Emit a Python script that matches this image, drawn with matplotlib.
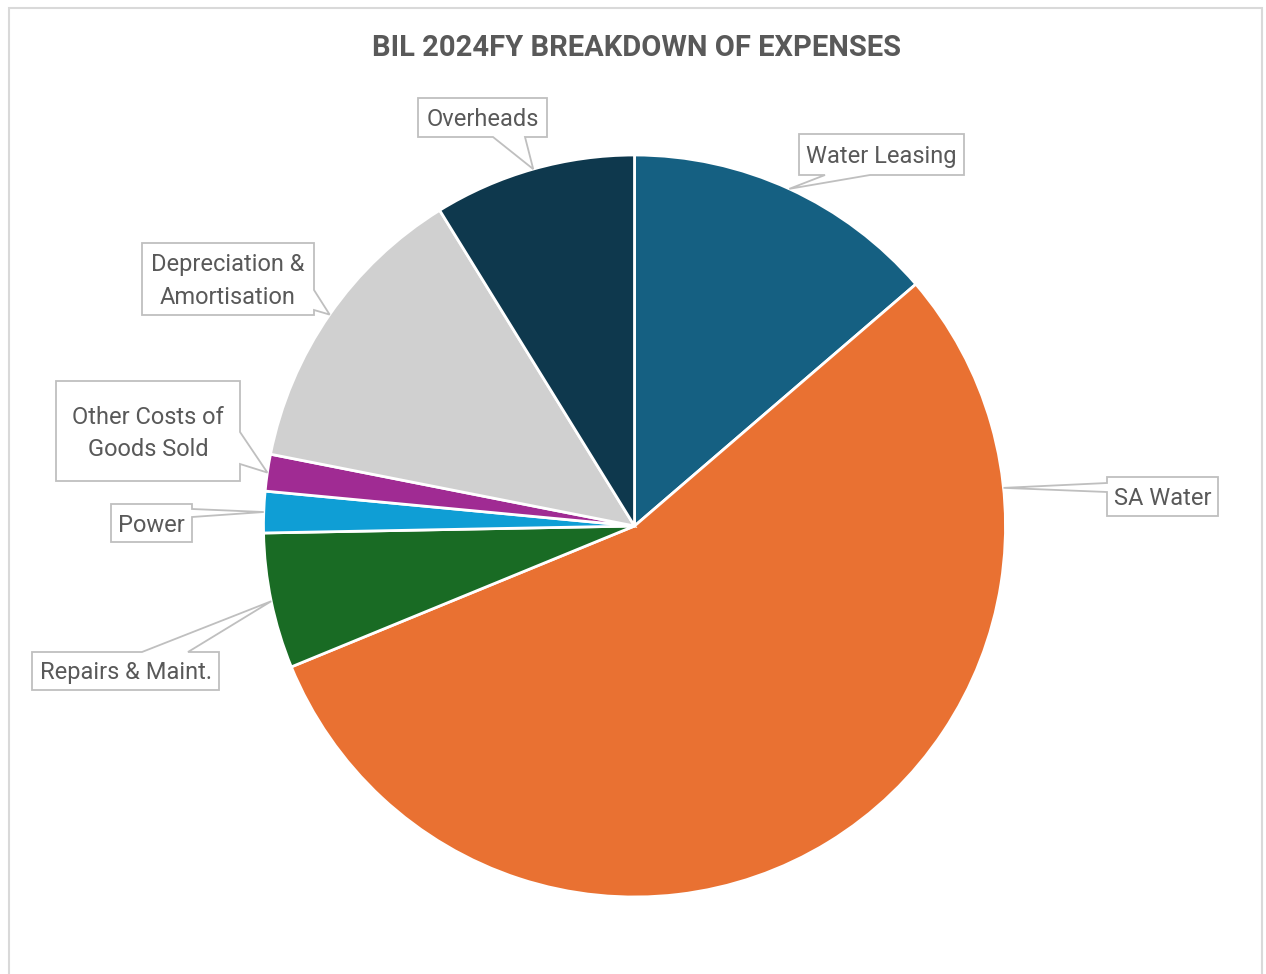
import matplotlib
matplotlib.use("Agg")
import matplotlib.pyplot as plt
from matplotlib.patches import Polygon, Rectangle
import numpy as np

# ---- data ----
categories = ["Water Leasing", "SA Water", "Repairs & Maint.", "Power",
              "Other Costs of\nGoods Sold", "Depreciation &\nAmortisation", "Overheads"]
values = [13.7, 55.1, 5.9, 1.8, 1.6, 13.1, 8.8]
colors = ["#156082", "#E97132", "#196B24", "#0F9ED5", "#A02B93", "#D0D0D0", "#0E384D"]
title = "BIL 2024FY BREAKDOWN OF EXPENSES"

# ---- layout (pixel coords, y downward) ----
W, H = 1266, 974
center_px = (634.5, 526)
radius = 371
# label boxes: (x0, y0, x1, y1), side of pointer, base positions along side
boxes = {
    "Water Leasing": ((799, 134, 964, 175), "bottom", (825, 870)),
    "SA Water": ((1107, 477, 1218, 516), "left", (483, 492)),
    "Repairs & Maint.": ((32, 652, 219, 690), "top", (142, 188)),
    "Power": ((111, 504, 192, 542), "right", (509, 517)),
    "Other Costs of\nGoods Sold": ((56, 381, 240, 481), "right", (432, 464)),
    "Depreciation &\nAmortisation": ((142, 243, 314, 315), "right", (290, 310)),
    "Overheads": ((418, 98, 547, 137), "bottom", (493, 525)),
}
# pointer angle overrides (degrees) where the callout doesn't point to wedge middle
tip_angle_override = {"SA Water": 5.9}

fig = plt.figure(figsize=(W / 100, H / 100), dpi=100)
ax = fig.add_axes([0, 0, 1, 1])

def Y(y):
    return H - y

cx, cy = center_px[0], Y(center_px[1])
wedges, _ = ax.pie(values, colors=colors, startangle=90, counterclock=False,
                   center=(cx, cy), radius=radius, frame=True,
                   wedgeprops=dict(edgecolor="white", linewidth=2.0))
ax.set_xlim(0, W)
ax.set_ylim(0, H)
ax.set_aspect("equal")
ax.axis("off")

edge_col = "#BFBFBF"
text_col = "#595959"
for w, lab in zip(wedges, categories):
    ang = tip_angle_override.get(lab, (w.theta1 + w.theta2) / 2)
    mid = np.deg2rad(ang)
    tx, ty = cx + radius * np.cos(mid), cy + radius * np.sin(mid)
    tip_px = (tx, H - ty)
    (x0, y0, x1, y1), side, (b1, b2) = boxes[lab]
    pts = [(x0, y0)]
    if side == "top":
        pts += [(b1, y0), tip_px, (b2, y0)]
    pts.append((x1, y0))
    if side == "right":
        pts += [(x1, b1), tip_px, (x1, b2)]
    pts.append((x1, y1))
    if side == "bottom":
        pts += [(b2, y1), tip_px, (b1, y1)]
    pts.append((x0, y1))
    if side == "left":
        pts += [(x0, b2), tip_px, (x0, b1)]
    poly = Polygon([(px, Y(py)) for px, py in pts], closed=True,
                   facecolor="white", edgecolor=edge_col, linewidth=1.3,
                   zorder=5, joinstyle="miter")
    ax.add_patch(poly)
    ax.text((x0 + x1) / 2, Y((y0 + y1) / 2 + 2), lab, ha="center", va="center",
            fontsize=17, color=text_col, family="Roboto", zorder=6,
            linespacing=1.5)

ax.text(636, Y(48), title, ha="center", va="center", fontsize=21,
        fontweight="bold", color=text_col, family="Roboto")

# chart frame
ax.add_patch(Rectangle((9, Y(990)), 1253, 990 - 8, fill=False,
                       edgecolor="#D9D9D9", linewidth=1.5, zorder=0))

fig.savefig("out.png", dpi=100)
